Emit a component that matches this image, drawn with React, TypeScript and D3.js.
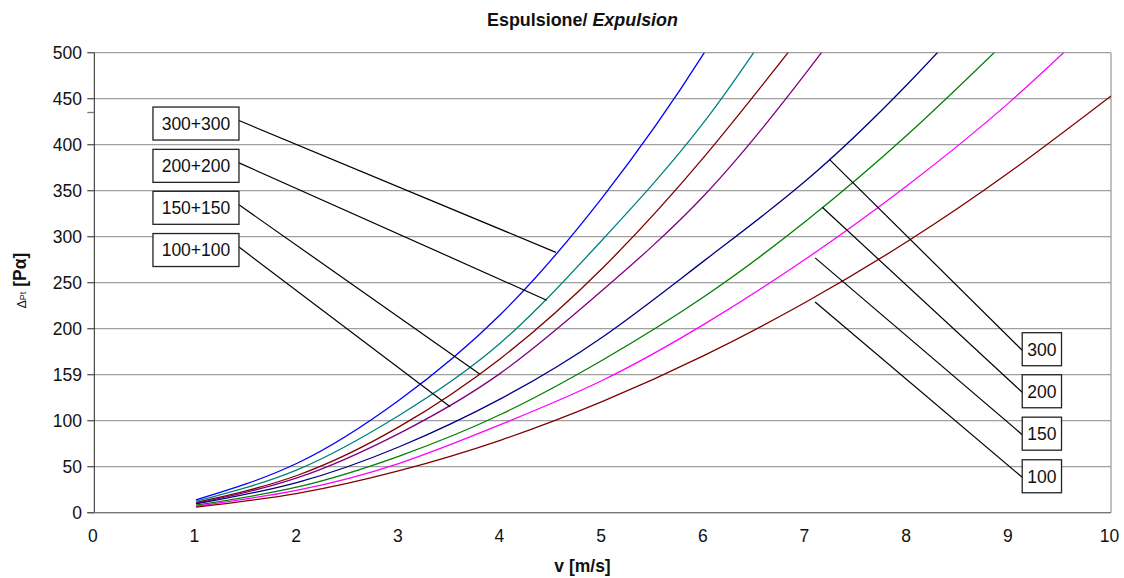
import React from "react";
import * as d3 from "d3";

// ---- data ----
const vValues = [1, 2, 3, 4, 5, 6, 7, 8, 9, 10];
const seriesNames = ["300+300", "200+200", "150+150", "100+100", "300", "200", "150", "100"];
const seriesColors = ["#0000FF", "#008080", "#800000", "#800080", "#000080", "#008000", "#FF00FF", "#800000"];
const p300x2 = [14, 54, 122.5, 216, 343, 500, 688];
const p200x2 = [12.5, 46.9, 106, 185, 297, 425, 585];
const p150x2 = [11, 40.7, 93.5, 168, 266, 387, 525];
const p100x2 = [10.3, 38.1, 86.3, 152, 242, 345, 478, 626];
const p300 = [9.5, 33, 71.7, 124, 191, 274, 361, 466, 585];
const p200 = [8.2, 28, 61.6, 107, 166, 235, 317, 411, 516];
const p150 = [7, 24.6, 53.7, 96, 144, 205, 276, 356, 446, 549];
const p100 = [6, 21.1, 45.7, 79, 121, 171, 229, 295, 370, 453];
const seriesValues = [p300x2, p200x2, p150x2, p100x2, p300, p200, p150, p100];

const xTicks = [0, 1, 2, 3, 4, 5, 6, 7, 8, 9, 10];
const yTicks = [0, 50, 100, 150, 200, 250, 300, 350, 400, 450, 500];
const yTickLabels = ["0", "50", "100", "159", "200", "250", "300", "350", "400", "450", "500"];
const yMinorTicks = [435];

// annotation callouts (label, box centre, leader tip) in data units
const annLabels = ["300+300", "200+200", "150+150", "100+100", "300", "200", "150", "100"];
const annBoxV = [1.0, 1.0, 1.0, 1.0, 9.32, 9.32, 9.32, 9.32];
const annBoxP = [423, 377, 331.4, 285.5, 177.7, 132, 85.9, 39.6];
const annTipV = [4.54, 4.45, 3.79, 3.5, 7.23, 7.16, 7.09, 7.09];
const annTipP = [283, 231, 150.8, 115.2, 384, 332, 277, 229];

const title = "Espulsione/ ";
const titleItalic = "Expulsion";
const xTitle = "v [m/s]";

const W = 1124;
const H = 578;
const M = { left: 94.3, right: 1111, top: 52.7, bottom: 512.7 };
const FONT = "'Liberation Sans', Arial, sans-serif";

export default function App() {
  const x = d3.scaleLinear().domain([0, 10]).range([M.left, M.right]);
  const y = d3.scaleLinear().domain([0, 500]).range([M.bottom, M.top]);
  const line = d3
    .line<[number, number]>()
    .x((d) => x(d[0]))
    .y((d) => y(d[1]))
    .curve(d3.curveNatural);

  return (
    <svg
      width={W}
      height={H}
      style={{ position: "absolute", left: 0, top: 0, background: "#fff" }}
      fontFamily={FONT}
    >
      <defs>
        <clipPath id="plot">
          <rect x={M.left} y={M.top} width={M.right - M.left} height={M.bottom - M.top} />
        </clipPath>
      </defs>
      <rect width={W} height={H} fill="#fff" />
      {/* gridlines */}
      {yTicks.map((t) => (
        <line key={"g" + t} x1={M.left} x2={M.right} y1={y(t)} y2={y(t)} stroke="#a0a0a0" strokeWidth={1.3} />
      ))}
      {/* plot border right */}
      <line x1={M.right} x2={M.right} y1={M.top} y2={M.bottom} stroke="#a0a0a0" strokeWidth={1.3} />
      {/* axes */}
      <line x1={M.left} x2={M.left} y1={M.top} y2={M.bottom} stroke="#222" strokeWidth={1} />
      <line x1={M.left - 7} x2={M.right} y1={M.bottom} y2={M.bottom} stroke="#777" strokeWidth={1.3} />
      {yTicks.map((t, i) => (
        <g key={"yt" + t}>
          <line x1={M.left - 7} x2={M.left} y1={y(t)} y2={y(t)} stroke="#555" strokeWidth={1.3} />
          <text x={82} y={y(t) + 6.2} textAnchor="end" fontSize={17.5} fill="#111">
            {yTickLabels[i]}
          </text>
        </g>
      ))}
      {yMinorTicks.map((t) => (
        <line key={"ym" + t} x1={M.left - 7} x2={M.left} y1={y(t)} y2={y(t)} stroke="#777" strokeWidth={1.3} />
      ))}
      {xTicks.map((t) => (
        <text key={"xt" + t} x={x(t) - 1.5} y={542.3} textAnchor="middle" fontSize={17.5} fill="#111">
          {t}
        </text>
      ))}
      {/* series */}
      <g clipPath="url(#plot)">
        {seriesValues.map((vals, i) => (
          <path
            key={seriesNames[i]}
            d={line(vals.map((p, j) => [vValues[j], p] as [number, number])) || ""}
            fill="none"
            stroke={seriesColors[i]}
            strokeWidth={1.3}
          />
        ))}
      </g>
      {/* callouts */}
      {annLabels.map((lab, i) => {
        const cx = x(annBoxV[i]);
        const cy = y(annBoxP[i]);
        const bw = lab.length > 3 ? 86 : 39.3;
        const bh = 33;
        const left = i < 4;
        const lx = left ? cx + bw / 2 : cx - bw / 2;
        const ly = left ? cy - 3 : cy + 1;
        return (
          <g key={"a" + i}>
            <line x1={lx} y1={ly} x2={x(annTipV[i])} y2={y(annTipP[i])} stroke="#000" strokeWidth={1.2} />
            <rect x={cx - bw / 2} y={cy - bh / 2} width={bw} height={bh} fill="#fff" stroke="#222" strokeWidth={1.3} />
            <text x={cx} y={cy + 6.3} textAnchor="middle" fontSize={17.5} fill="#111">
              {lab}
            </text>
          </g>
        );
      })}
      {/* titles */}
      <text x={582.5} y={26} textAnchor="middle" fontSize={17.9} fontWeight="bold" fill="#111">
        {title}
        <tspan fontStyle="italic">{titleItalic}</tspan>
      </text>
      <text x={582.5} y={572} textAnchor="middle" fontSize={17.5} fontWeight="bold" fill="#111">
        {xTitle}
      </text>
      <text transform="translate(25.5,280.5) rotate(-90)" textAnchor="middle" fill="#111">
        <tspan fontSize={12}>Δ</tspan>
        <tspan fontSize={9}>Pt</tspan>
        <tspan fontSize={17.5} fontWeight="bold"> [Pα]</tspan>
      </text>
    </svg>
  );
}
